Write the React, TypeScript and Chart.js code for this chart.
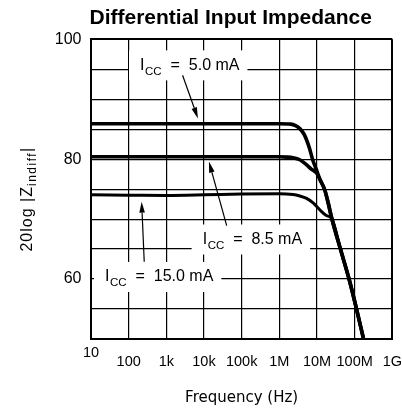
import React, { useEffect, useRef } from 'react';
import { Chart, registerables } from 'chart.js';

Chart.register(...registerables);

// ---- axis ticks ----
const xTickValues = [10, 100, 1e3, 1e4, 1e5, 1e6, 1e7, 1e8, 1e9];
const xTickLabels = ['10', '100', '1k', '10k', '100k', '1M', '10M', '100M', '1G'];
const yLabeledTicks = [60, 80, 100];

// ---- series: ICC = 5.0 mA ----
const freq5mA = [10, 100, 1e3, 1e4, 1e5, 1e6, 2.0e6, 2.7e6, 3.5e6, 4.5e6, 5.3e6, 6.4e6, 7.6e6, 9.7e6, 12.2e6, 16e6, 20e6, 24.7e6, 41.9e6, 71e6, 112e6, 172e6];
const z5mA = [85.9, 85.9, 85.9, 85.9, 85.9, 85.9, 85.85, 85.6, 85.1, 84.2, 83.2, 81.7, 80.0, 78.2, 76.5, 74.9, 72.6, 70.1, 65.0, 60.0, 55.0, 50.0];

// ---- series: ICC = 8.5 mA ----
const freq8_5mA = [10, 100, 1e3, 1e4, 1e5, 1e6, 1.55e6, 2.3e6, 3.5e6, 5.3e6, 6.9e6, 9.7e6, 12.2e6, 16e6, 20e6, 24.7e6, 41.9e6, 71e6, 112e6, 172e6];
const z8_5mA = [80.4, 80.4, 80.4, 80.4, 80.4, 80.4, 80.35, 80.25, 79.9, 79.05, 78.4, 77.7, 76.5, 74.9, 72.6, 70.1, 65.0, 60.0, 55.0, 50.0];

// ---- series: ICC = 15.0 mA ----
const freq15mA = [10, 100, 1e3, 1e4, 1e5, 1e6, 2.3e6, 3.5e6, 5.3e6, 7.9e6, 11.9e6, 17.7e6, 24.7e6, 41.9e6, 71e6, 112e6, 172e6];
const z15mA = [74.05, 74.0, 73.95, 74.05, 74.2, 74.25, 74.1, 73.85, 73.45, 72.7, 71.55, 70.6, 70.1, 65.0, 60.0, 55.0, 50.0];

// ---- annotations (data coordinates) ----
const annotationLabels = ['5.0 mA', '8.5 mA', '15.0 mA'];
const annotationAnchors = [[200, 94.9], [9.2e3, 65.85], [23.5, 59.6]];
const arrowTails = [[2.7e3, 94.0], [40e3, 68.9], [259, 62.9]];
const arrowHeads = [[6.9e3, 86.8], [13.5e3, 79.6], [221, 72.9]];

const TITLE = 'Differential Input Impedance';
const FONT = "'Liberation Sans', Arial, Helvetica, sans-serif";

const annotationPlugin = {
  id: 'iccAnnotations',
  afterDraw(chart: any) {
    const { ctx, scales } = chart;
    const xs = scales.x;
    const ys = scales.y;
    const area = chart.chartArea;
    ctx.save();

    // chart title
    ctx.fillStyle = '#000';
    ctx.font = `bold 21px ${FONT}`;
    ctx.textAlign = 'center';
    ctx.textBaseline = 'middle';
    ctx.fillText(TITLE, (area.left + area.right) / 2 - 11, 18);

    annotationLabels.forEach((label, i) => {
      const ax = xs.getPixelForValue(annotationAnchors[i][0]);
      const ay = ys.getPixelForValue(annotationAnchors[i][1]);
      const rest = '  =  ' + label;
      ctx.font = `16px ${FONT}`;
      const wI = ctx.measureText('I').width;
      const wRest = ctx.measureText(rest).width;
      ctx.font = `11.5px ${FONT}`;
      const wSub = ctx.measureText('CC').width;
      const total = wI + 0.6 + wSub + wRest;
      // white label box hiding the grid
      ctx.fillStyle = '#fff';
      ctx.fillRect(ax - 11, ay - 19.5, total + 19, 30);
      // text
      ctx.fillStyle = '#000';
      ctx.textBaseline = 'alphabetic';
      ctx.textAlign = 'left';
      ctx.font = `16px ${FONT}`;
      ctx.fillText('I', ax, ay);
      ctx.font = `11.5px ${FONT}`;
      ctx.fillText('CC', ax + wI + 0.6, ay + 5);
      ctx.font = `16px ${FONT}`;
      ctx.fillText(rest, ax + wI + 0.6 + wSub, ay);
      // arrow
      const tx = xs.getPixelForValue(arrowTails[i][0]);
      const ty = ys.getPixelForValue(arrowTails[i][1]);
      const hx = xs.getPixelForValue(arrowHeads[i][0]);
      const hy = ys.getPixelForValue(arrowHeads[i][1]);
      const ang = Math.atan2(hy - ty, hx - tx);
      const len = 11;
      const hw = 2.8;
      const bx = hx - len * Math.cos(ang);
      const by = hy - len * Math.sin(ang);
      ctx.strokeStyle = '#000';
      ctx.lineWidth = 1.2;
      ctx.beginPath();
      ctx.moveTo(tx, ty);
      ctx.lineTo(bx, by);
      ctx.stroke();
      ctx.beginPath();
      ctx.moveTo(hx, hy);
      ctx.lineTo(bx + hw * Math.sin(ang), by - hw * Math.cos(ang));
      ctx.lineTo(bx - hw * Math.sin(ang), by + hw * Math.cos(ang));
      ctx.closePath();
      ctx.fill();
    });

    // y-axis title with subscript: 20log |Z_indiff|
    const cy = (area.top + area.bottom) / 2 + 10;
    const pieces = [
      { t: '20log |Z', size: 16, dy: 0, ls: 1 },
      { t: 'indiff', size: 12, dy: 4, ls: 1.5 },
      { t: '|', size: 16, dy: 0, ls: 1 },
    ];
    let total = 0;
    const widths: number[] = [];
    pieces.forEach((p) => {
      ctx.font = `${p.size}px ${FONT}`;
      (ctx as any).letterSpacing = `${p.ls}px`;
      const w = ctx.measureText(p.t).width;
      widths.push(w);
      total += w;
    });
    ctx.textAlign = 'left';
    ctx.textBaseline = 'alphabetic';
    ctx.translate(31.5, cy);
    ctx.rotate(-Math.PI / 2);
    let x = -total / 2;
    pieces.forEach((p, i) => {
      ctx.font = `${p.size}px ${FONT}`;
      (ctx as any).letterSpacing = `${p.ls}px`;
      ctx.fillText(p.t, x, p.dy);
      x += widths[i];
    });
    ctx.restore();
  },
};

export default function App() {
  const ref = useRef<HTMLCanvasElement>(null);

  useEffect(() => {
    const canvas = ref.current;
    if (!canvas) return;
    const toPoints = (xs: number[], ys: number[]) => xs.map((x, i) => ({ x, y: ys[i] }));
    const lineStyle = {
      borderColor: '#000',
      pointRadius: 0,
      fill: false,
      cubicInterpolationMode: 'monotone' as const,
    };
    const chart = new Chart(canvas, {
      type: 'line',
      data: {
        datasets: [
          { label: 'ICC = 5.0 mA', data: toPoints(freq5mA, z5mA), borderWidth: 3.6, ...lineStyle },
          { label: 'ICC = 8.5 mA', data: toPoints(freq8_5mA, z8_5mA), borderWidth: 3.6, ...lineStyle },
          { label: 'ICC = 15.0 mA', data: toPoints(freq15mA, z15mA), borderWidth: 3, ...lineStyle },
        ],
      },
      options: {
        responsive: false,
        animation: false,
        layout: { padding: { left: 0, right: 0, top: 39.3, bottom: 0 } },
        plugins: {
          legend: { display: false },
          tooltip: { enabled: false },
          title: { display: false },
        },
        scales: {
          x: {
            type: 'logarithmic',
            min: 10,
            max: 1e9,
            afterBuildTicks: (axis: any) => {
              axis.ticks = xTickValues.map((v) => ({ value: v }));
            },
            afterFit: (s: any) => {
              s.height = 71;
            },
            ticks: {
              autoSkip: false,
              maxRotation: 0,
              minRotation: 0,
              color: '#000',
              padding: 0,
              font: { family: FONT, size: 14.5, lineHeight: '9px' },
              callback: (value: any) => {
                const i = xTickValues.indexOf(Number(value));
                if (i < 0) return '';
                return i === 0 ? ['', xTickLabels[i]] : ['', '', xTickLabels[i]];
              },
            },
            grid: {
              color: '#000',
              drawTicks: false,
              lineWidth: (c: any) => (c.tick && (c.tick.value === 1e9 || c.tick.value === 10) ? 2 : 1.2),
            },
            border: { display: true, color: '#000', width: 2 },
            title: {
              display: true,
              text: 'Frequency (Hz)',
              color: '#000',
              font: { family: "'DejaVu Sans', sans-serif", size: 15, lineHeight: 1.2 },
              padding: { top: 0, bottom: 3 },
            },
          },
          y: {
            type: 'linear',
            min: 50,
            max: 100,
            afterFit: (s: any) => {
              s.width = 91;
            },
            ticks: {
              stepSize: 5,
              color: '#000',
              padding: 9.5,
              font: { family: FONT, size: 16, lineHeight: '2px' },
              callback: (value: any) => (yLabeledTicks.includes(Number(value)) ? String(value) : ''),
            },
            grid: {
              color: '#000',
              drawTicks: false,
              lineWidth: (c: any) => (c.tick && (c.tick.value === 100 || c.tick.value === 50) ? 2 : 1.2),
            },
            border: { display: true, color: '#000', width: 2 },
          },
        },
      },
      plugins: [annotationPlugin],
    } as any);
    return () => chart.destroy();
  }, []);

  return (
    <div style={{ position: 'absolute', left: 0, top: 0, width: 402, height: 410, background: '#fff' }}>
      <canvas ref={ref} width={402} height={410} style={{ display: 'block', width: 402, height: 410 }} />
    </div>
  );
}
